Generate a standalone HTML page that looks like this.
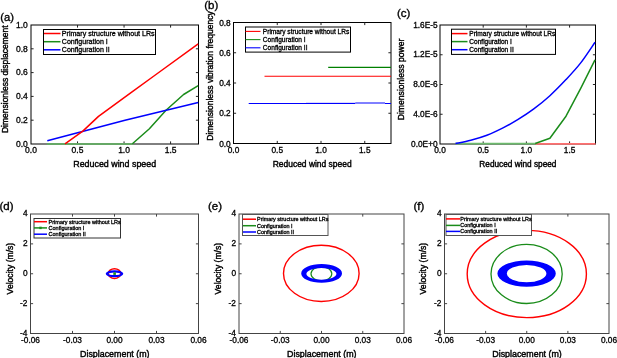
<!DOCTYPE html>
<html><head><meta charset="utf-8"><style>
html,body{margin:0;padding:0;background:#fff;}
svg{display:block;font-family:"Liberation Sans", sans-serif;will-change:transform;}
</style></head><body>
<svg width="617" height="358" viewBox="0 0 617 358">
<rect width="617" height="358" fill="#fff"/>
<text x="0.2" y="20.6" font-size="11.2" text-anchor="start" font-weight="normal" fill="#000" stroke="#000" stroke-width="0.35">(a)</text>
<rect x="31.0" y="25.0" width="167.5" height="119.0" fill="none" stroke="#000" stroke-width="1"/>
<line x1="77.52777777777777" y1="144.0" x2="77.52777777777777" y2="141.4" stroke="#222" stroke-width="1"/>
<line x1="77.52777777777777" y1="25.0" x2="77.52777777777777" y2="27.6" stroke="#222" stroke-width="1"/>
<line x1="124.05555555555556" y1="144.0" x2="124.05555555555556" y2="141.4" stroke="#222" stroke-width="1"/>
<line x1="124.05555555555556" y1="25.0" x2="124.05555555555556" y2="27.6" stroke="#222" stroke-width="1"/>
<line x1="170.58333333333334" y1="144.0" x2="170.58333333333334" y2="141.4" stroke="#222" stroke-width="1"/>
<line x1="170.58333333333334" y1="25.0" x2="170.58333333333334" y2="27.6" stroke="#222" stroke-width="1"/>
<line x1="31.0" y1="120.2" x2="33.6" y2="120.2" stroke="#222" stroke-width="1"/>
<line x1="198.5" y1="120.2" x2="195.9" y2="120.2" stroke="#222" stroke-width="1"/>
<line x1="31.0" y1="96.4" x2="33.6" y2="96.4" stroke="#222" stroke-width="1"/>
<line x1="198.5" y1="96.4" x2="195.9" y2="96.4" stroke="#222" stroke-width="1"/>
<line x1="31.0" y1="72.60000000000001" x2="33.6" y2="72.60000000000001" stroke="#222" stroke-width="1"/>
<line x1="198.5" y1="72.60000000000001" x2="195.9" y2="72.60000000000001" stroke="#222" stroke-width="1"/>
<line x1="31.0" y1="48.8" x2="33.6" y2="48.8" stroke="#222" stroke-width="1"/>
<line x1="198.5" y1="48.8" x2="195.9" y2="48.8" stroke="#222" stroke-width="1"/>
<line x1="46.8" y1="144.0" x2="133" y2="144.0" stroke="#66a866" stroke-width="2"/>
<polyline points="132.4,143.7 149.4,128.7 166,110.2 183.6,94.5 198.2,85.7" fill="none" stroke="#1a8c1a" stroke-width="1.5" stroke-linejoin="round"/>
<polyline points="47.3,140.7 125,120.3 198.2,102.4" fill="none" stroke="#0000ff" stroke-width="1.5" stroke-linejoin="round"/>
<polyline points="65.0,143.8 82.8,131.1 98.5,116.4 130,93.3 155.3,75 198.2,43.8" fill="none" stroke="#ff0000" stroke-width="1.5" stroke-linejoin="round"/>
<text x="31.0" y="153.3" font-size="8.5" text-anchor="middle" font-weight="normal" fill="#000" stroke="#000" stroke-width="0.3">0.0</text>
<text x="77.52777777777777" y="153.3" font-size="8.5" text-anchor="middle" font-weight="normal" fill="#000" stroke="#000" stroke-width="0.3">0.5</text>
<text x="124.05555555555556" y="153.3" font-size="8.5" text-anchor="middle" font-weight="normal" fill="#000" stroke="#000" stroke-width="0.3">1.0</text>
<text x="170.58333333333334" y="153.3" font-size="8.5" text-anchor="middle" font-weight="normal" fill="#000" stroke="#000" stroke-width="0.3">1.5</text>
<text x="27.8" y="146.8" font-size="8.5" text-anchor="end" font-weight="normal" fill="#000" stroke="#000" stroke-width="0.3">0.0</text>
<text x="27.8" y="123.0" font-size="8.5" text-anchor="end" font-weight="normal" fill="#000" stroke="#000" stroke-width="0.3">0.2</text>
<text x="27.8" y="99.2" font-size="8.5" text-anchor="end" font-weight="normal" fill="#000" stroke="#000" stroke-width="0.3">0.4</text>
<text x="27.8" y="75.4" font-size="8.5" text-anchor="end" font-weight="normal" fill="#000" stroke="#000" stroke-width="0.3">0.6</text>
<text x="27.8" y="51.599999999999994" font-size="8.5" text-anchor="end" font-weight="normal" fill="#000" stroke="#000" stroke-width="0.3">0.8</text>
<text x="27.8" y="27.8" font-size="8.5" text-anchor="end" font-weight="normal" fill="#000" stroke="#000" stroke-width="0.3">1.0</text>
<text x="114.7" y="167.2" font-size="8.9" text-anchor="middle" font-weight="normal" fill="#000" stroke="#000" stroke-width="0.4">Reduced wind speed</text>
<text x="8" y="79.2" font-size="8.5" text-anchor="middle" font-weight="normal" fill="#000" stroke="#000" stroke-width="0.4" transform="rotate(-90 8 79.2)">Dimensionless displacement</text>
<rect x="43.5" y="29.5" width="112" height="25" fill="#fff" stroke="#000" stroke-width="1"/>
<line x1="44" y1="33.5" x2="60.5" y2="33.5" stroke="#ff0000" stroke-width="1.5"/>
<text x="61.8" y="36.0488" font-size="7.08" text-anchor="start" font-weight="normal" fill="#000" stroke="#000" stroke-width="0.3">Primary structure without LRs</text>
<line x1="44" y1="41.7" x2="60.5" y2="41.7" stroke="#1a8c1a" stroke-width="1.5"/>
<text x="61.8" y="44.2488" font-size="7.08" text-anchor="start" font-weight="normal" fill="#000" stroke="#000" stroke-width="0.3">Configuration I</text>
<line x1="44" y1="49.8" x2="60.5" y2="49.8" stroke="#0000ff" stroke-width="1.5"/>
<text x="61.8" y="52.3488" font-size="7.08" text-anchor="start" font-weight="normal" fill="#000" stroke="#000" stroke-width="0.3">Configuration II</text>
<text x="204.2" y="8.7" font-size="11.5" text-anchor="start" font-weight="normal" fill="#000" stroke="#000" stroke-width="0.35">(b)</text>
<rect x="233.5" y="22.5" width="157.5" height="121.0" fill="none" stroke="#000" stroke-width="1"/>
<line x1="277.25" y1="143.5" x2="277.25" y2="140.9" stroke="#222" stroke-width="1"/>
<line x1="277.25" y1="22.5" x2="277.25" y2="25.1" stroke="#222" stroke-width="1"/>
<line x1="321.0" y1="143.5" x2="321.0" y2="140.9" stroke="#222" stroke-width="1"/>
<line x1="321.0" y1="22.5" x2="321.0" y2="25.1" stroke="#222" stroke-width="1"/>
<line x1="364.75" y1="143.5" x2="364.75" y2="140.9" stroke="#222" stroke-width="1"/>
<line x1="364.75" y1="22.5" x2="364.75" y2="25.1" stroke="#222" stroke-width="1"/>
<line x1="233.5" y1="113.25" x2="236.1" y2="113.25" stroke="#222" stroke-width="1"/>
<line x1="391.0" y1="113.25" x2="388.4" y2="113.25" stroke="#222" stroke-width="1"/>
<line x1="233.5" y1="83.0" x2="236.1" y2="83.0" stroke="#222" stroke-width="1"/>
<line x1="391.0" y1="83.0" x2="388.4" y2="83.0" stroke="#222" stroke-width="1"/>
<line x1="233.5" y1="52.750000000000014" x2="236.1" y2="52.750000000000014" stroke="#222" stroke-width="1"/>
<line x1="391.0" y1="52.750000000000014" x2="388.4" y2="52.750000000000014" stroke="#222" stroke-width="1"/>
<line x1="328.2" y1="67.4" x2="391.0" y2="67.4" stroke="#008000" stroke-width="1.2"/>
<line x1="264.5" y1="76.3" x2="391.0" y2="76.3" stroke="#ff0000" stroke-width="1.1"/>
<line x1="248.7" y1="103.5" x2="355.3" y2="103.5" stroke="#0000ff" stroke-width="1.0"/>
<line x1="306" y1="102.5" x2="355.3" y2="102.5" stroke="#0000ff" stroke-width="1.0" stroke-opacity="0.15"/>
<line x1="355.3" y1="103.0" x2="385" y2="103.0" stroke="#0000ff" stroke-width="1.0"/>
<line x1="385" y1="103.5" x2="391.0" y2="103.5" stroke="#0000ff" stroke-width="1.0"/>
<text x="233.5" y="152.6" font-size="8.3" text-anchor="middle" font-weight="normal" fill="#000" stroke="#000" stroke-width="0.3">0.0</text>
<text x="277.25" y="152.6" font-size="8.3" text-anchor="middle" font-weight="normal" fill="#000" stroke="#000" stroke-width="0.3">0.5</text>
<text x="321.0" y="152.6" font-size="8.3" text-anchor="middle" font-weight="normal" fill="#000" stroke="#000" stroke-width="0.3">1.0</text>
<text x="364.75" y="152.6" font-size="8.3" text-anchor="middle" font-weight="normal" fill="#000" stroke="#000" stroke-width="0.3">1.5</text>
<text x="230.7" y="146.5" font-size="8.3" text-anchor="end" font-weight="normal" fill="#000" stroke="#000" stroke-width="0.3">0.0</text>
<text x="230.7" y="116.25" font-size="8.3" text-anchor="end" font-weight="normal" fill="#000" stroke="#000" stroke-width="0.3">0.2</text>
<text x="230.7" y="86.0" font-size="8.3" text-anchor="end" font-weight="normal" fill="#000" stroke="#000" stroke-width="0.3">0.4</text>
<text x="230.7" y="55.750000000000014" font-size="8.3" text-anchor="end" font-weight="normal" fill="#000" stroke="#000" stroke-width="0.3">0.6</text>
<text x="230.7" y="25.499999999999986" font-size="8.3" text-anchor="end" font-weight="normal" fill="#000" stroke="#000" stroke-width="0.3">0.8</text>
<text x="312.2" y="167.2" font-size="8.45" text-anchor="middle" font-weight="normal" fill="#000" stroke="#000" stroke-width="0.4">Reduced wind speed</text>
<text x="212.6" y="76.0" font-size="8.5" text-anchor="middle" font-weight="normal" fill="#000" stroke="#000" stroke-width="0.4" transform="rotate(-90 212.6 76.0)">Dimensionless vibration frequency</text>
<rect x="245.5" y="27.0" width="105" height="25.1" fill="#fff" stroke="#000" stroke-width="1"/>
<line x1="245.5" y1="31.4" x2="260.5" y2="31.4" stroke="#ff0000" stroke-width="1.1"/>
<text x="262.8" y="33.775999999999996" font-size="6.6" text-anchor="start" font-weight="normal" fill="#000" stroke="#000" stroke-width="0.3">Primary structure without LRs</text>
<line x1="245.5" y1="39.6" x2="260.5" y2="39.6" stroke="#1a8c1a" stroke-width="1.1"/>
<text x="262.8" y="41.976" font-size="6.6" text-anchor="start" font-weight="normal" fill="#000" stroke="#000" stroke-width="0.3">Configuration I</text>
<line x1="245.5" y1="47.8" x2="260.5" y2="47.8" stroke="#0000ff" stroke-width="1.1"/>
<text x="262.8" y="50.175999999999995" font-size="6.6" text-anchor="start" font-weight="normal" fill="#000" stroke="#000" stroke-width="0.3">Configuration II</text>
<text x="397.0" y="16.8" font-size="11.5" text-anchor="start" font-weight="normal" fill="#000" stroke="#000" stroke-width="0.35">(c)</text>
<rect x="440.0" y="25.0" width="155.5" height="119.0" fill="none" stroke="#000" stroke-width="1"/>
<line x1="483.19444444444446" y1="144.0" x2="483.19444444444446" y2="141.4" stroke="#222" stroke-width="1"/>
<line x1="483.19444444444446" y1="25.0" x2="483.19444444444446" y2="27.6" stroke="#222" stroke-width="1"/>
<line x1="526.3888888888889" y1="144.0" x2="526.3888888888889" y2="141.4" stroke="#222" stroke-width="1"/>
<line x1="526.3888888888889" y1="25.0" x2="526.3888888888889" y2="27.6" stroke="#222" stroke-width="1"/>
<line x1="569.5833333333334" y1="144.0" x2="569.5833333333334" y2="141.4" stroke="#222" stroke-width="1"/>
<line x1="569.5833333333334" y1="25.0" x2="569.5833333333334" y2="27.6" stroke="#222" stroke-width="1"/>
<line x1="440.0" y1="114.25" x2="442.6" y2="114.25" stroke="#222" stroke-width="1"/>
<line x1="595.5" y1="114.25" x2="592.9" y2="114.25" stroke="#222" stroke-width="1"/>
<line x1="440.0" y1="84.5" x2="442.6" y2="84.5" stroke="#222" stroke-width="1"/>
<line x1="595.5" y1="84.5" x2="592.9" y2="84.5" stroke="#222" stroke-width="1"/>
<line x1="440.0" y1="54.75" x2="442.6" y2="54.75" stroke="#222" stroke-width="1"/>
<line x1="595.5" y1="54.75" x2="592.9" y2="54.75" stroke="#222" stroke-width="1"/>
<line x1="535.5" y1="143.9" x2="595.5" y2="143.9" stroke="#ff7070" stroke-width="1.7"/>
<line x1="455.5" y1="143.7" x2="535.5" y2="143.7" stroke="#6cba6c" stroke-width="1.7"/>
<polyline points="535.2,143.5 549.9,138.2 566,116.2 580.7,88.4 595,59.9" fill="none" stroke="#1a8c1a" stroke-width="1.5" stroke-linejoin="round"/>
<path d="M455.5,143.5 C458.05,142.95 465.57,141.58 470.8,140.2 C476.03,138.82 481.53,137.25 486.9,135.2 C492.27,133.15 497.87,130.48 503,127.9 C508.13,125.32 512.57,122.87 517.7,119.7 C522.83,116.53 528.43,112.90 533.8,108.9 C539.17,104.90 544.53,100.58 549.9,95.7 C555.27,90.82 560.87,85.07 566,79.6 C571.13,74.13 575.87,69.12 580.7,62.9 C585.53,56.68 592.62,45.73 595,42.3" fill="none" stroke="#0000ff" stroke-width="1.5" stroke-linejoin="round"/>
<text x="440.0" y="153.0" font-size="8.3" text-anchor="middle" font-weight="normal" fill="#000" stroke="#000" stroke-width="0.3">0.0</text>
<text x="483.19444444444446" y="153.0" font-size="8.3" text-anchor="middle" font-weight="normal" fill="#000" stroke="#000" stroke-width="0.3">0.5</text>
<text x="526.3888888888889" y="153.0" font-size="8.3" text-anchor="middle" font-weight="normal" fill="#000" stroke="#000" stroke-width="0.3">1.0</text>
<text x="569.5833333333334" y="153.0" font-size="8.3" text-anchor="middle" font-weight="normal" fill="#000" stroke="#000" stroke-width="0.3">1.5</text>
<text x="437.6" y="146.6" font-size="8.3" text-anchor="end" font-weight="normal" fill="#000" stroke="#000" stroke-width="0.3">0.0E+0</text>
<text x="437.6" y="116.85" font-size="8.3" text-anchor="end" font-weight="normal" fill="#000" stroke="#000" stroke-width="0.3">4.0E-6</text>
<text x="437.6" y="87.1" font-size="8.3" text-anchor="end" font-weight="normal" fill="#000" stroke="#000" stroke-width="0.3">8.0E-6</text>
<text x="437.6" y="57.35" font-size="8.3" text-anchor="end" font-weight="normal" fill="#000" stroke="#000" stroke-width="0.3">1.2E-5</text>
<text x="437.6" y="27.6" font-size="8.3" text-anchor="end" font-weight="normal" fill="#000" stroke="#000" stroke-width="0.3">1.6E-5</text>
<text x="517.9" y="167.2" font-size="8.25" text-anchor="middle" font-weight="normal" fill="#000" stroke="#000" stroke-width="0.4">Reduced wind speed</text>
<text x="404.0" y="79.4" font-size="8.6" text-anchor="middle" font-weight="normal" fill="#000" stroke="#000" stroke-width="0.4" transform="rotate(-90 404.0 79.4)">Dimensionless power</text>
<rect x="451.5" y="29.2" width="104" height="25.2" fill="#fff" stroke="#000" stroke-width="1"/>
<line x1="452" y1="33.6" x2="467.5" y2="33.6" stroke="#ff0000" stroke-width="1.5"/>
<text x="469.3" y="35.958" font-size="6.55" text-anchor="start" font-weight="normal" fill="#000" stroke="#000" stroke-width="0.3">Primary structure without LRs</text>
<line x1="452" y1="41.6" x2="467.5" y2="41.6" stroke="#1a8c1a" stroke-width="1.5"/>
<text x="469.3" y="43.958" font-size="6.55" text-anchor="start" font-weight="normal" fill="#000" stroke="#000" stroke-width="0.3">Configuration I</text>
<line x1="452" y1="49.7" x2="467.5" y2="49.7" stroke="#0000ff" stroke-width="1.5"/>
<text x="469.3" y="52.058" font-size="6.55" text-anchor="start" font-weight="normal" fill="#000" stroke="#000" stroke-width="0.3">Configuration II</text>
<text x="-0.6" y="209.8" font-size="11.5" text-anchor="start" font-weight="normal" fill="#000" stroke="#000" stroke-width="0.35">(d)</text>
<rect x="30.5" y="214.0" width="168.0" height="119.5" fill="none" stroke="#444" stroke-width="1"/>
<line x1="72.5" y1="333.5" x2="72.5" y2="330.9" stroke="#444" stroke-width="1"/>
<line x1="72.5" y1="214.0" x2="72.5" y2="216.6" stroke="#444" stroke-width="1"/>
<line x1="114.5" y1="333.5" x2="114.5" y2="330.9" stroke="#444" stroke-width="1"/>
<line x1="114.5" y1="214.0" x2="114.5" y2="216.6" stroke="#444" stroke-width="1"/>
<line x1="156.5" y1="333.5" x2="156.5" y2="330.9" stroke="#444" stroke-width="1"/>
<line x1="156.5" y1="214.0" x2="156.5" y2="216.6" stroke="#444" stroke-width="1"/>
<line x1="30.5" y1="303.625" x2="33.1" y2="303.625" stroke="#444" stroke-width="1"/>
<line x1="198.5" y1="303.625" x2="195.9" y2="303.625" stroke="#444" stroke-width="1"/>
<line x1="30.5" y1="273.75" x2="33.1" y2="273.75" stroke="#444" stroke-width="1"/>
<line x1="198.5" y1="273.75" x2="195.9" y2="273.75" stroke="#444" stroke-width="1"/>
<line x1="30.5" y1="243.875" x2="33.1" y2="243.875" stroke="#444" stroke-width="1"/>
<line x1="198.5" y1="243.875" x2="195.9" y2="243.875" stroke="#444" stroke-width="1"/>
<ellipse cx="114.5" cy="273.6" rx="6.2" ry="4.8" fill="none" stroke="#ff0000" stroke-width="1.5"/>
<path fill-rule="evenodd" fill="#0000ff" d="M105.7,273.8 a8.8,3.5 0 1,0 17.6,0 a8.8,3.5 0 1,0 -17.6,0 Z M108.2,273.8 a6.3,1.25 0 1,0 12.6,0 a6.3,1.25 0 1,0 -12.6,0 Z"/>
<rect x="113.3" y="272.3" width="2.6" height="2.6" fill="#1a8c1a"/>
<text x="30.5" y="342.9" font-size="8.3" text-anchor="middle" font-weight="normal" fill="#000" stroke="#000" stroke-width="0.3">-0.06</text>
<text x="72.5" y="342.9" font-size="8.3" text-anchor="middle" font-weight="normal" fill="#000" stroke="#000" stroke-width="0.3">-0.03</text>
<text x="114.5" y="342.9" font-size="8.3" text-anchor="middle" font-weight="normal" fill="#000" stroke="#000" stroke-width="0.3">0.00</text>
<text x="156.5" y="342.9" font-size="8.3" text-anchor="middle" font-weight="normal" fill="#000" stroke="#000" stroke-width="0.3">0.03</text>
<text x="198.5" y="342.9" font-size="8.3" text-anchor="middle" font-weight="normal" fill="#000" stroke="#000" stroke-width="0.3">0.06</text>
<text x="27.5" y="335.8" font-size="8.3" text-anchor="end" font-weight="normal" fill="#000" stroke="#000" stroke-width="0.3">-4</text>
<text x="27.5" y="305.925" font-size="8.3" text-anchor="end" font-weight="normal" fill="#000" stroke="#000" stroke-width="0.3">-2</text>
<text x="27.5" y="276.05" font-size="8.3" text-anchor="end" font-weight="normal" fill="#000" stroke="#000" stroke-width="0.3">0</text>
<text x="27.5" y="246.175" font-size="8.3" text-anchor="end" font-weight="normal" fill="#000" stroke="#000" stroke-width="0.3">2</text>
<text x="27.5" y="216.3" font-size="8.3" text-anchor="end" font-weight="normal" fill="#000" stroke="#000" stroke-width="0.3">4</text>
<text x="114.8" y="356.5" font-size="8.9" text-anchor="middle" font-weight="normal" fill="#000" stroke="#000" stroke-width="0.4">Displacement (m)</text>
<text x="13.2" y="268.6" font-size="8.6" text-anchor="middle" font-weight="normal" fill="#000" stroke="#000" stroke-width="0.4" transform="rotate(-90 13.2 268.6)">Velocity (m/s)</text>
<rect x="34" y="218.5" width="86.5" height="19.5" fill="#fff" stroke="#333" stroke-width="1"/>
<line x1="34" y1="221.7" x2="47" y2="221.7" stroke="#ff0000" stroke-width="1.5"/>
<text x="48.6" y="223.67999999999998" font-size="5.5" text-anchor="start" font-weight="normal" fill="#000" stroke="#000" stroke-width="0.3">Primary structure without LRs</text>
<line x1="34" y1="227.9" x2="47" y2="227.9" stroke="#1a8c1a" stroke-width="1.5"/>
<text x="48.6" y="229.88" font-size="5.5" text-anchor="start" font-weight="normal" fill="#000" stroke="#000" stroke-width="0.3">Configuration I</text>
<line x1="34" y1="234.2" x2="47" y2="234.2" stroke="#0000ff" stroke-width="1.5"/>
<text x="48.6" y="236.17999999999998" font-size="5.5" text-anchor="start" font-weight="normal" fill="#000" stroke="#000" stroke-width="0.3">Configuration II</text>
<rect x="39.3" y="226.70000000000002" width="2.4" height="2.4" fill="#1a8c1a"/>
<text x="208.0" y="209.8" font-size="11.5" text-anchor="start" font-weight="normal" fill="#000" stroke="#000" stroke-width="0.35">(e)</text>
<rect x="239.0" y="214.0" width="165.0" height="119.5" fill="none" stroke="#444" stroke-width="1"/>
<line x1="280.25" y1="333.5" x2="280.25" y2="330.9" stroke="#444" stroke-width="1"/>
<line x1="280.25" y1="214.0" x2="280.25" y2="216.6" stroke="#444" stroke-width="1"/>
<line x1="321.5" y1="333.5" x2="321.5" y2="330.9" stroke="#444" stroke-width="1"/>
<line x1="321.5" y1="214.0" x2="321.5" y2="216.6" stroke="#444" stroke-width="1"/>
<line x1="362.75" y1="333.5" x2="362.75" y2="330.9" stroke="#444" stroke-width="1"/>
<line x1="362.75" y1="214.0" x2="362.75" y2="216.6" stroke="#444" stroke-width="1"/>
<line x1="239.0" y1="303.625" x2="241.6" y2="303.625" stroke="#444" stroke-width="1"/>
<line x1="404.0" y1="303.625" x2="401.4" y2="303.625" stroke="#444" stroke-width="1"/>
<line x1="239.0" y1="273.75" x2="241.6" y2="273.75" stroke="#444" stroke-width="1"/>
<line x1="404.0" y1="273.75" x2="401.4" y2="273.75" stroke="#444" stroke-width="1"/>
<line x1="239.0" y1="243.875" x2="241.6" y2="243.875" stroke="#444" stroke-width="1"/>
<line x1="404.0" y1="243.875" x2="401.4" y2="243.875" stroke="#444" stroke-width="1"/>
<ellipse cx="321.3" cy="273.4" rx="37.8" ry="28.1" fill="none" stroke="#ff0000" stroke-width="1.4"/>
<ellipse cx="321.4" cy="273.8" rx="10.4" ry="7.0" fill="none" stroke="#1a8c1a" stroke-width="1.2"/>
<path fill-rule="evenodd" fill="#0000ff" d="M301.20000000000005,273.4 a20.4,9.3 0 1,0 40.8,0 a20.4,9.3 0 1,0 -40.8,0 Z M306.4,273.85 a15.0,5.95 0 1,0 30.0,0 a15.0,5.95 0 1,0 -30.0,0 Z"/>
<text x="239.0" y="342.9" font-size="8.3" text-anchor="middle" font-weight="normal" fill="#000" stroke="#000" stroke-width="0.3">-0.06</text>
<text x="280.25" y="342.9" font-size="8.3" text-anchor="middle" font-weight="normal" fill="#000" stroke="#000" stroke-width="0.3">-0.03</text>
<text x="321.5" y="342.9" font-size="8.3" text-anchor="middle" font-weight="normal" fill="#000" stroke="#000" stroke-width="0.3">0.00</text>
<text x="362.75" y="342.9" font-size="8.3" text-anchor="middle" font-weight="normal" fill="#000" stroke="#000" stroke-width="0.3">0.03</text>
<text x="404.0" y="342.9" font-size="8.3" text-anchor="middle" font-weight="normal" fill="#000" stroke="#000" stroke-width="0.3">0.06</text>
<text x="236.0" y="335.8" font-size="8.3" text-anchor="end" font-weight="normal" fill="#000" stroke="#000" stroke-width="0.3">-4</text>
<text x="236.0" y="305.925" font-size="8.3" text-anchor="end" font-weight="normal" fill="#000" stroke="#000" stroke-width="0.3">-2</text>
<text x="236.0" y="276.05" font-size="8.3" text-anchor="end" font-weight="normal" fill="#000" stroke="#000" stroke-width="0.3">0</text>
<text x="236.0" y="246.175" font-size="8.3" text-anchor="end" font-weight="normal" fill="#000" stroke="#000" stroke-width="0.3">2</text>
<text x="236.0" y="216.3" font-size="8.3" text-anchor="end" font-weight="normal" fill="#000" stroke="#000" stroke-width="0.3">4</text>
<text x="321.8" y="356.5" font-size="8.9" text-anchor="middle" font-weight="normal" fill="#000" stroke="#000" stroke-width="0.4">Displacement (m)</text>
<text x="221.1" y="268.6" font-size="8.6" text-anchor="middle" font-weight="normal" fill="#000" stroke="#000" stroke-width="0.4" transform="rotate(-90 221.1 268.6)">Velocity (m/s)</text>
<rect x="242.5" y="214.5" width="85.5" height="21" fill="#fff" stroke="#555" stroke-width="1"/>
<line x1="243" y1="219.2" x2="256" y2="219.2" stroke="#ff0000" stroke-width="1.5"/>
<text x="257.1" y="221.16199999999998" font-size="5.45" text-anchor="start" font-weight="normal" fill="#000" stroke="#000" stroke-width="0.3">Primary structure without LRs</text>
<line x1="243" y1="225.7" x2="256" y2="225.7" stroke="#1a8c1a" stroke-width="1.5"/>
<text x="257.1" y="227.66199999999998" font-size="5.45" text-anchor="start" font-weight="normal" fill="#000" stroke="#000" stroke-width="0.3">Configuration I</text>
<line x1="243" y1="232" x2="256" y2="232" stroke="#0000ff" stroke-width="1.5"/>
<text x="257.1" y="233.962" font-size="5.45" text-anchor="start" font-weight="normal" fill="#000" stroke="#000" stroke-width="0.3">Configuration II</text>
<text x="413.5" y="209.8" font-size="11.5" text-anchor="start" font-weight="normal" fill="#000" stroke="#000" stroke-width="0.35">(f)</text>
<rect x="444.5" y="214.0" width="164.5" height="119.5" fill="none" stroke="#444" stroke-width="1"/>
<line x1="485.625" y1="333.5" x2="485.625" y2="330.9" stroke="#444" stroke-width="1"/>
<line x1="485.625" y1="214.0" x2="485.625" y2="216.6" stroke="#444" stroke-width="1"/>
<line x1="526.75" y1="333.5" x2="526.75" y2="330.9" stroke="#444" stroke-width="1"/>
<line x1="526.75" y1="214.0" x2="526.75" y2="216.6" stroke="#444" stroke-width="1"/>
<line x1="567.875" y1="333.5" x2="567.875" y2="330.9" stroke="#444" stroke-width="1"/>
<line x1="567.875" y1="214.0" x2="567.875" y2="216.6" stroke="#444" stroke-width="1"/>
<line x1="444.5" y1="303.625" x2="447.1" y2="303.625" stroke="#444" stroke-width="1"/>
<line x1="609.0" y1="303.625" x2="606.4" y2="303.625" stroke="#444" stroke-width="1"/>
<line x1="444.5" y1="273.75" x2="447.1" y2="273.75" stroke="#444" stroke-width="1"/>
<line x1="609.0" y1="273.75" x2="606.4" y2="273.75" stroke="#444" stroke-width="1"/>
<line x1="444.5" y1="243.875" x2="447.1" y2="243.875" stroke="#444" stroke-width="1"/>
<line x1="609.0" y1="243.875" x2="606.4" y2="243.875" stroke="#444" stroke-width="1"/>
<ellipse cx="526.8" cy="274.0" rx="59.6" ry="43.6" fill="none" stroke="#ff0000" stroke-width="1.4"/>
<ellipse cx="526.6" cy="273.9" rx="35.6" ry="29.6" fill="none" stroke="#1a8c1a" stroke-width="1.3"/>
<path fill-rule="evenodd" fill="#0000ff" d="M497.40000000000003,273.6 a29.2,13.1 0 1,0 58.4,0 a29.2,13.1 0 1,0 -58.4,0 Z M506.8,273.6 a19.8,8.65 0 1,0 39.6,0 a19.8,8.65 0 1,0 -39.6,0 Z"/>
<text x="444.5" y="342.9" font-size="8.3" text-anchor="middle" font-weight="normal" fill="#000" stroke="#000" stroke-width="0.3">-0.06</text>
<text x="485.625" y="342.9" font-size="8.3" text-anchor="middle" font-weight="normal" fill="#000" stroke="#000" stroke-width="0.3">-0.03</text>
<text x="526.75" y="342.9" font-size="8.3" text-anchor="middle" font-weight="normal" fill="#000" stroke="#000" stroke-width="0.3">0.00</text>
<text x="567.875" y="342.9" font-size="8.3" text-anchor="middle" font-weight="normal" fill="#000" stroke="#000" stroke-width="0.3">0.03</text>
<text x="609.0" y="342.9" font-size="8.3" text-anchor="middle" font-weight="normal" fill="#000" stroke="#000" stroke-width="0.3">0.06</text>
<text x="441.5" y="335.8" font-size="8.3" text-anchor="end" font-weight="normal" fill="#000" stroke="#000" stroke-width="0.3">-4</text>
<text x="441.5" y="305.925" font-size="8.3" text-anchor="end" font-weight="normal" fill="#000" stroke="#000" stroke-width="0.3">-2</text>
<text x="441.5" y="276.05" font-size="8.3" text-anchor="end" font-weight="normal" fill="#000" stroke="#000" stroke-width="0.3">0</text>
<text x="441.5" y="246.175" font-size="8.3" text-anchor="end" font-weight="normal" fill="#000" stroke="#000" stroke-width="0.3">2</text>
<text x="441.5" y="216.3" font-size="8.3" text-anchor="end" font-weight="normal" fill="#000" stroke="#000" stroke-width="0.3">4</text>
<text x="527.05" y="356.5" font-size="8.9" text-anchor="middle" font-weight="normal" fill="#000" stroke="#000" stroke-width="0.4">Displacement (m)</text>
<text x="426.5" y="268.6" font-size="8.6" text-anchor="middle" font-weight="normal" fill="#000" stroke="#000" stroke-width="0.4" transform="rotate(-90 426.5 268.6)">Velocity (m/s)</text>
<rect x="446" y="214.5" width="85.5" height="21" fill="#fff" stroke="#555" stroke-width="1"/>
<line x1="446" y1="218.9" x2="460" y2="218.9" stroke="#ff0000" stroke-width="1.5"/>
<text x="460.3" y="220.862" font-size="5.45" text-anchor="start" font-weight="normal" fill="#000" stroke="#000" stroke-width="0.3">Primary structure without LRs</text>
<line x1="446" y1="225.4" x2="460" y2="225.4" stroke="#1a8c1a" stroke-width="1.5"/>
<text x="460.3" y="227.362" font-size="5.45" text-anchor="start" font-weight="normal" fill="#000" stroke="#000" stroke-width="0.3">Configuration I</text>
<line x1="446" y1="231.4" x2="460" y2="231.4" stroke="#0000ff" stroke-width="1.5"/>
<text x="460.3" y="233.362" font-size="5.45" text-anchor="start" font-weight="normal" fill="#000" stroke="#000" stroke-width="0.3">Configuration II</text>
</svg>
</body></html>
